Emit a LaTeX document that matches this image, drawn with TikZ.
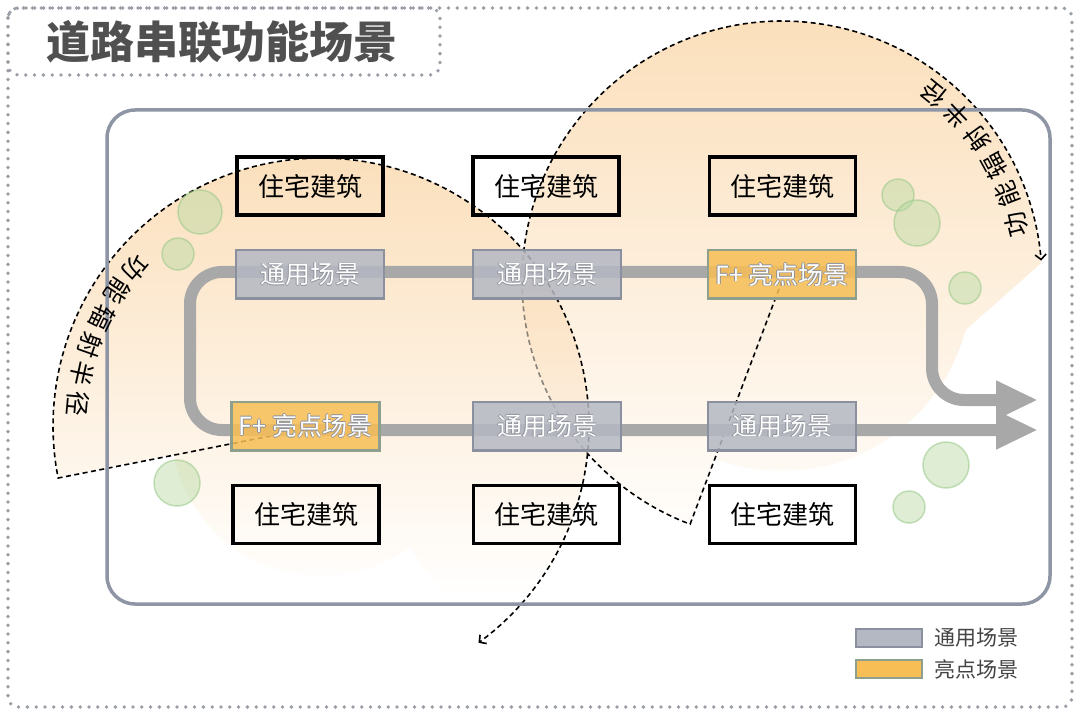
\documentclass[tikz,border=0pt]{standalone}
\usepackage{fontspec}
\setmainfont{Noto Sans CJK SC}
\usetikzlibrary{arrows.meta}
\definecolor{frameg}{HTML}{9A9EA6}
\definecolor{titleg}{HTML}{505050}
\definecolor{rectg}{HTML}{8E95A5}
\definecolor{roadg}{HTML}{A8A8A8}
\definecolor{scenfill}{HTML}{B4B8C3}
\definecolor{scenedge}{HTML}{8A909E}
\definecolor{hifill}{HTML}{F7BE55}
\definecolor{hiedge}{HTML}{8E9F8E}
\definecolor{glowc}{HTML}{FBDFBB}
\definecolor{leaf}{HTML}{B6D9A0}
\definecolor{leafedge}{HTML}{98C988}
\definecolor{olc}{HTML}{8E929A}
\definecolor{legtextc}{HTML}{444444}
\newcommand\olt[1]{\leavevmode
 \rlap{\kern0.7pt\textcolor{olc}{#1}}%
 \rlap{\kern-0.7pt\textcolor{olc}{#1}}%
 \rlap{\raisebox{0.7pt}{\textcolor{olc}{#1}}}%
 \rlap{\raisebox{-0.7pt}{\textcolor{olc}{#1}}}%
 \textcolor{white}{#1}}
\begin{document}
\begin{tikzpicture}[x=1pt,y=-1pt,
  fandash/.style={draw=black, line width=1.6pt, dash pattern=on 5pt off 3.5pt},
  fantip/.style={-{Straight Barb[length=5pt,width=11pt]}},
  leafc/.style={fill=leaf, fill opacity=0.45, draw=leafedge, draw opacity=0.55, line width=1.5pt},
  house/.style={draw=black, line width=3.8pt, minimum width=146pt, minimum height=58pt, inner sep=0pt, font=\fontsize{26}{26}\selectfont},
  scen/.style={draw=scenedge, fill=scenfill, fill opacity=0.85, text opacity=1, line width=2.5pt, minimum width=148pt, minimum height=48.5pt, inner sep=0pt, font=\fontsize{25}{25}\selectfont},
  hi/.style={scen, draw=hiedge, fill=hifill},
  road/.style={draw=roadg, line width=12pt, rounded corners=32pt, {Triangle[length=42pt,width=36pt]}-{Triangle[length=42pt,width=36pt]}},
  arclabel/.style={font=\fontsize{25}{25}\selectfont, inner sep=0pt},
  dotframe/.style={draw=frameg, line width=3.8pt, line cap=round, dash pattern=on 0pt off 8.8pt, rounded corners=10pt},
  legbox/.style={minimum width=66pt, minimum height=18pt, line width=2.5pt, inner sep=0pt},
  legtext/.style={font=\fontsize{21}{21}\selectfont, text=legtextc, anchor=west, inner sep=0pt}
]
\useasboundingbox (0,0) rectangle (1080,714);
\fill[white] (0,0) rectangle (1080,714);
\coordinate (C1) at (321,426);
\coordinate (C2) at (782,281);

% right glow
\begin{scope}[blend mode=multiply]
 \begin{scope}
  \clip plot[domain=4:249.3,samples=90] ({782+260*cos(\x)},{281-260*sin(\x)}) -- plot[domain=249.3:345,samples=40] ({782+190*cos(\x)},{281-190*sin(\x)}) -- cycle;
  \shade[top color=glowc, middle color=glowc!70!white, bottom color=white] (500,15) rectangle (1050,560);
 \end{scope}
\end{scope}
% right fan outline
\draw[fandash, fantip] (C2) -- plot[domain=249.3:4.5,samples=120] ({782+260*cos(\x)},{281-260*sin(\x)});

% veil of left fan
\fill[white, fill opacity=0.55] plot[domain=-54:191,samples=90] ({321+268*cos(\x)},{426-268*sin(\x)}) -- (C1) -- cycle;
% left glow
\begin{scope}[blend mode=multiply]
 \begin{scope}
  \clip plot[domain=-54:191,samples=90] ({321+268*cos(\x)},{426-268*sin(\x)}) -- plot[domain=191:306,samples=40] ({321+150*cos(\x)},{426-150*sin(\x)}) -- cycle;
  \shade[top color=glowc, middle color=glowc!65!white, bottom color=white] (40,150) rectangle (600,600);
 \end{scope}
\end{scope}
% left fan outline
\draw[fandash, fantip] (C1) -- plot[domain=191.2:-54,samples=120] ({321+268*cos(\x)},{426-268*sin(\x)});

% green circles
\foreach \cx/\cy/\r in {200/212/22, 178/254/16, 177/483/23, 898/195/16, 917/223/23, 965/288/16, 946/465/23, 909/507/16}
  \draw[leafc] (\cx,\cy) circle[radius=\r];

% main frame
\draw[rectg, line width=3.5pt, rounded corners=28pt] (107,110) rectangle (1050,604);

% road
\draw[road] (1038,400) -- (932,400) -- (932,272) -- (190,272) -- (190,430) -- (1038,430);

% houses
\node[house] (h1) at (310,186) {住宅建筑};
\node[house] (h2) at (546,186) {住宅建筑};
\node[house] (h3) at (782.5,186) {住宅建筑};
\node[house] (h4) at (306,514.5) {住宅建筑};
\node[house] (h5) at (546.5,514.5) {住宅建筑};
\node[house] (h6) at (782.5,514.5) {住宅建筑};

% scenes
\node[scen] (s1) at (310,274.5) {\olt{通用场景}};
\node[scen] (s2) at (547,274.5) {\olt{通用场景}};
\node[hi] (s3) at (782,274.5) {\olt{F+ 亮点场景}};
\node[hi] (s4) at (305.5,426) {\olt{F+ 亮点场景}};
\node[scen] (s5) at (547,426) {\olt{通用场景}};
\node[scen] (s6) at (782,426) {\olt{通用场景}};

% arc labels
\foreach \ch [count=\i from 0] in {功,能,辐,射,半,径}{
  \pgfmathsetmacro\ang{139.5+7.05*\i}
  \node[arclabel, rotate=\ang+90] (la\i) at ({321+244*cos(\ang)},{426-244*sin(\ang)}) {\ch};
}
\foreach \ch [count=\i from 0] in {功,能,辐,射,半,径}{
  \pgfmathsetmacro\ang{13.5+7.5*\i}
  \node[arclabel, rotate=\ang+90] (ra\i) at ({782+241*cos(\ang)},{281-241*sin(\ang)}) {\ch};
}

% frames and title
\draw[dotframe] (8,8) rectangle (1072,707);
\draw[dotframe] (8,8) rectangle (440,75);
\node[font=\bfseries\fontsize{44}{44}\selectfont, text=titleg, inner sep=0pt] (title) at (222,42) {道路串联功能场景};

% legend
\node[legbox, fill=scenfill, draw=scenedge] (lg1) at (889,638) {};
\node[legtext] (lt1) at (934,638) {通用场景};
\node[legbox, fill=hifill, draw=hiedge] (lg2) at (889,669) {};
\node[legtext] (lt2) at (934,669) {亮点场景};
\end{tikzpicture}
\end{document}
